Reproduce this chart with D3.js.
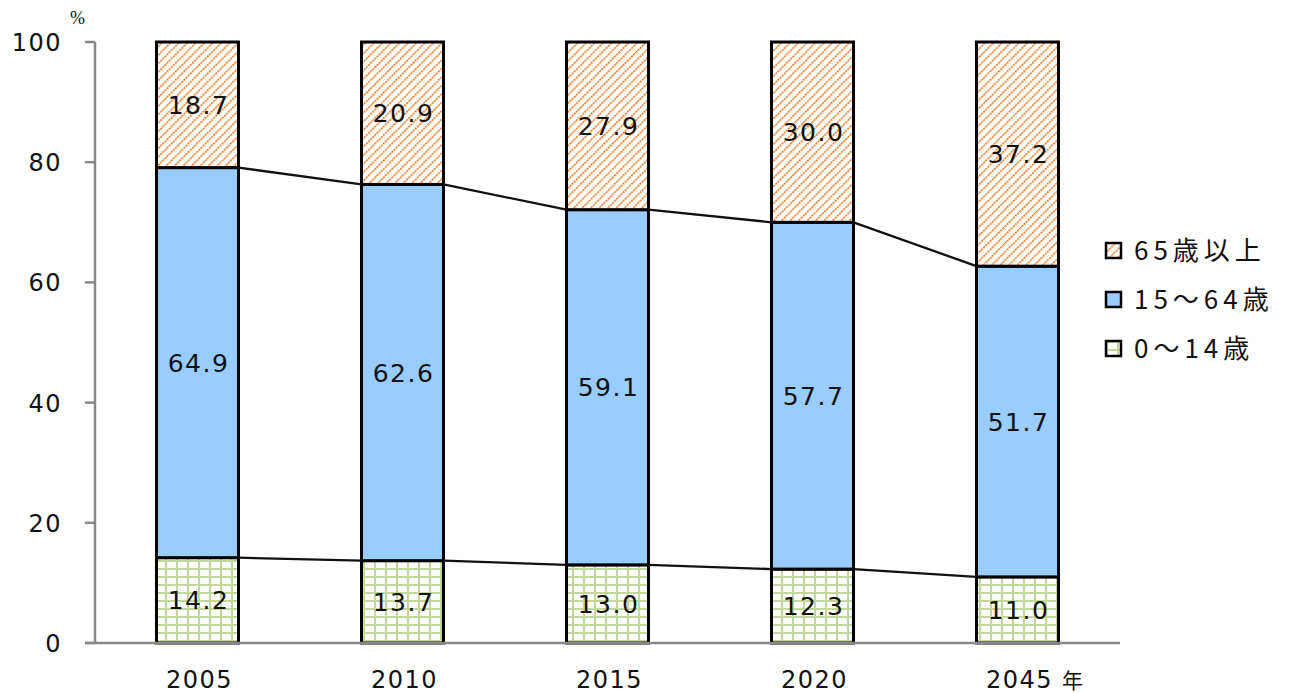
<!DOCTYPE html>
<html>
<head>
<meta charset="utf-8">
<script src="https://cdn.jsdelivr.net/npm/d3@7/dist/d3.min.js"></script>
<style>
  body { margin: 0; background: #fff; }
  svg text { font-family: "DejaVu Sans", "Noto Sans CJK JP", sans-serif; fill: #111; }
</style>
</head>
<body>
<svg width="1296" height="693"></svg>
<script>
// data
var years = ["2005", "2010", "2015", "2020", "2045"];
var age0_14 = [14.2, 13.7, 13.0, 12.3, 11.0];
var age15_64 = [64.9, 62.6, 59.1, 57.7, 51.7];
var age65 = [18.7, 20.9, 27.9, 30.0, 37.2];
var yTicks = [0, 20, 40, 60, 80, 100];
var legendNames = ["65歳以上", "15～64歳", "0～14歳"];

var svg = d3.select("svg");
var pLeft = 95, pRight = 1120, pTop = 42, pBottom = 643;

var x = d3.scaleBand().domain(years).range([pLeft, pRight])
    .paddingInner(0.6).paddingOuter(0.3);
var y = d3.scaleLinear().domain([0, 100]).range([pBottom, pTop]);

// patterns
var defs = svg.append("defs");
var pOr = defs.append("pattern")
    .attr("id", "orange").attr("patternUnits", "userSpaceOnUse")
    .attr("width", 6).attr("height", 6)
    .attr("patternTransform", "rotate(45)");
pOr.append("rect").attr("width", 6).attr("height", 6).attr("fill", "#fff");
pOr.append("line").attr("x1", 0).attr("y1", 0).attr("x2", 0).attr("y2", 6)
    .attr("stroke", "#ee7418").attr("stroke-width", 3)
    .attr("stroke-dasharray", "2.2,0.8");

var pGr = defs.append("pattern")
    .attr("id", "green").attr("patternUnits", "userSpaceOnUse")
    .attr("width", 11).attr("height", 8);
pGr.append("rect").attr("width", 11).attr("height", 8).attr("fill", "#fff");
pGr.append("line").attr("x1", 1).attr("y1", 0).attr("x2", 1).attr("y2", 8)
    .attr("stroke", "#c4d79b").attr("stroke-width", 2);
pGr.append("line").attr("x1", 0).attr("y1", 1).attr("x2", 11).attr("y2", 1)
    .attr("stroke", "#c4d79b").attr("stroke-width", 2);

// stacked segments; the top segment fills up to 100
var segs = [];
years.forEach(function (yr, i) {
    var a = age0_14[i], b = age15_64[i];
    segs.push({yr: yr, y0: 0, y1: a, label: age0_14[i], fill: "url(#green)"});
    segs.push({yr: yr, y0: a, y1: a + b, label: age15_64[i], fill: "#99ccff"});
    segs.push({yr: yr, y0: a + b, y1: 100, label: age65[i], fill: "url(#orange)"});
});

svg.selectAll(".seg").data(segs).enter().append("rect")
    .attr("class", "seg")
    .attr("x", function (d) { return x(d.yr); })
    .attr("width", x.bandwidth())
    .attr("y", function (d) { return y(d.y1); })
    .attr("height", function (d) { return y(d.y0) - y(d.y1); })
    .attr("fill", function (d) { return d.fill; })
    .attr("stroke", "#000").attr("stroke-width", 3);

svg.selectAll(".lbl").data(segs).enter().append("text")
    .attr("class", "lbl")
    .attr("x", function (d) { return x(d.yr) + x.bandwidth() / 2 + 1; })
    .attr("y", function (d) { return y((d.y0 + d.y1) / 2) + 9; })
    .attr("text-anchor", "middle")
    .style("font-size", "25px").style("letter-spacing", "1.5px")
    .text(function (d) { return d.label.toFixed(1); });

// series lines between bars
[age0_14, age0_14.map(function (v, i) { return v + age15_64[i]; })].forEach(function (s) {
    for (var i = 0; i < years.length - 1; i++) {
        svg.append("line")
            .attr("x1", x(years[i]) + x.bandwidth()).attr("y1", y(s[i]))
            .attr("x2", x(years[i + 1])).attr("y2", y(s[i + 1]))
            .attr("stroke", "#111").attr("stroke-width", 2.3);
    }
});

// axes
var axCol = "#888";
svg.append("line").attr("x1", pLeft).attr("x2", pLeft).attr("y1", pTop).attr("y2", pBottom)
    .attr("stroke", axCol).attr("stroke-width", 2.5);
svg.append("line").attr("x1", pLeft - 10).attr("x2", pRight).attr("y1", pBottom).attr("y2", pBottom)
    .attr("stroke", axCol).attr("stroke-width", 2.5);
svg.selectAll(".yt").data(yTicks).enter().append("line")
    .attr("x1", pLeft - 10).attr("x2", pLeft)
    .attr("y1", function (d) { return y(d); }).attr("y2", function (d) { return y(d); })
    .attr("stroke", axCol).attr("stroke-width", 2.5);
svg.selectAll(".ytl").data(yTicks).enter().append("text")
    .attr("x", 62).attr("y", function (d) { return y(d) + 9; })
    .attr("text-anchor", "end")
    .style("font-size", "24px").style("letter-spacing", "1.5px")
    .text(function (d) { return d; });
svg.append("text").attr("x", 70).attr("y", 24)
    .style("font-family", "'Liberation Serif', serif").style("font-size", "18px")
    .text("%");

svg.selectAll(".xtl").data(years).enter().append("text")
    .attr("x", function (d) { return x(d) + x.bandwidth() / 2 + 2; })
    .attr("y", 688)
    .attr("text-anchor", "middle")
    .style("font-size", "24px").style("letter-spacing", "1.5px")
    .text(function (d) { return d; });
svg.append("text").attr("x", 1062).attr("y", 688)
    .style("font-family", "'Noto Sans CJK JP'").style("font-size", "21px")
    .text("年");

// legend
var legFills = ["url(#orange)", "#99ccff", "url(#green)"];
var leg = svg.selectAll(".leg").data(legendNames).enter().append("g")
    .attr("transform", function (d, i) { return "translate(1106," + (243 + i * 49) + ")"; });
leg.append("rect").attr("width", 15).attr("height", 15)
    .attr("fill", function (d, i) { return legFills[i]; })
    .attr("stroke", "#000").attr("stroke-width", 2.5);
leg.append("text").attr("x", 28).attr("y", 17)
    .style("font-family", "'Noto Sans CJK JP'").style("font-size", "26px")
    .style("letter-spacing", "5px")
    .text(function (d) { return d; });
</script>
</body>
</html>
